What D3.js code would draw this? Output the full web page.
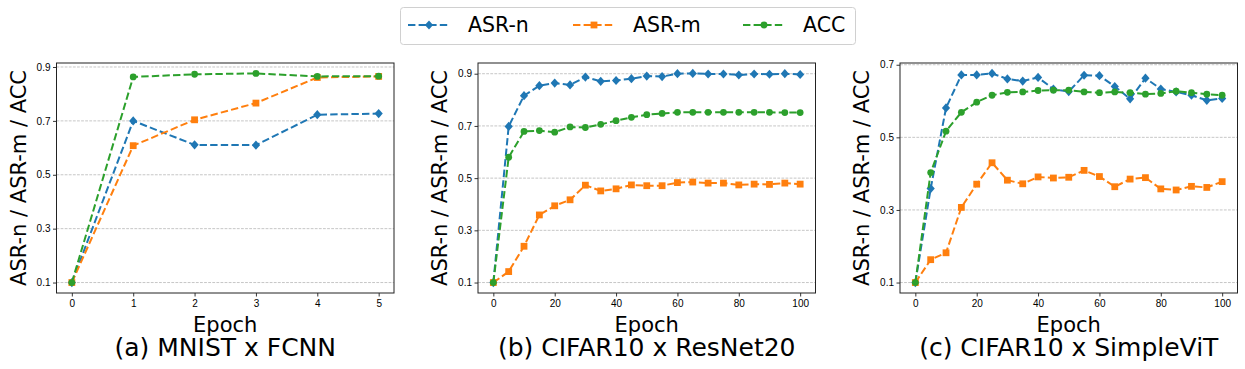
<!DOCTYPE html>
<html>
<head>
<meta charset="utf-8">
<script src="https://cdn.jsdelivr.net/npm/d3@7"></script>
<style>
  body { margin: 0; background: #fff; }
  svg { font-family: "DejaVu Sans", sans-serif; }
</style>
</head>
<body>
<svg width="1245" height="369"></svg>
<script>
// series names and colours
var seriesNames = ['ASR-n', 'ASR-m', 'ACC'];
var seriesColors = ['#1f77b4', '#ff7f0e', '#2ca02c'];
var seriesMarkers = ['diamond', 'square', 'circle'];

// (a) MNIST x FCNN
var epochsA = [0, 1, 2, 3, 4, 5];
var asrnA = [0.10, 0.700, 0.611, 0.610, 0.723, 0.727];
var asrmA = [0.10, 0.608, 0.704, 0.766, 0.861, 0.865];
var accA  = [0.10, 0.863, 0.873, 0.876, 0.865, 0.866];

// (b) CIFAR10 x ResNet20
var epochsB = [0, 5, 10, 15, 20, 25, 30, 35, 40, 45, 50, 55, 60, 65, 70, 75, 80, 85, 90, 95, 100];
var asrnB = [0.10, 0.698, 0.816, 0.854, 0.864, 0.857, 0.887, 0.871, 0.874, 0.881, 0.891, 0.889, 0.900, 0.901, 0.899, 0.899, 0.895, 0.899, 0.898, 0.900, 0.897];
var asrmB = [0.10, 0.142, 0.239, 0.359, 0.394, 0.417, 0.473, 0.451, 0.459, 0.474, 0.471, 0.471, 0.483, 0.485, 0.481, 0.481, 0.474, 0.477, 0.476, 0.481, 0.477];
var accB  = [0.10, 0.580, 0.679, 0.682, 0.676, 0.696, 0.694, 0.706, 0.720, 0.733, 0.743, 0.748, 0.752, 0.752, 0.752, 0.752, 0.752, 0.752, 0.752, 0.751, 0.751];

// (c) CIFAR10 x SimpleViT
var epochsC = [0, 5, 10, 15, 20, 25, 30, 35, 40, 45, 50, 55, 60, 65, 70, 75, 80, 85, 90, 95, 100];
var asrnC = [0.10, 0.359, 0.581, 0.672, 0.672, 0.676, 0.661, 0.655, 0.665, 0.633, 0.626, 0.671, 0.670, 0.640, 0.606, 0.663, 0.633, 0.625, 0.616, 0.602, 0.607];
var asrmC = [0.10, 0.163, 0.182, 0.307, 0.371, 0.430, 0.382, 0.372, 0.391, 0.388, 0.390, 0.409, 0.392, 0.364, 0.385, 0.389, 0.358, 0.355, 0.365, 0.362, 0.378];
var accC  = [0.10, 0.403, 0.517, 0.569, 0.597, 0.616, 0.624, 0.625, 0.629, 0.630, 0.630, 0.625, 0.623, 0.625, 0.623, 0.619, 0.621, 0.627, 0.623, 0.619, 0.616];

// tick labels
var xTicksA = [0, 1, 2, 3, 4, 5];
var xTicksBC = [0, 20, 40, 60, 80, 100];
var yTicksAB = [0.1, 0.3, 0.5, 0.7, 0.9];
var yTicksC = [0.1, 0.3, 0.5, 0.7];

var titles = ['(a) MNIST x FCNN', '(b) CIFAR10 x ResNet20', '(c) CIFAR10 x SimpleViT'];

var panels = [
  {left: 56.5, epochs: epochsA, series: [asrnA, asrmA, accA], xTicks: xTicksA, yTicks: yTicksAB, title: titles[0]},
  {left: 478, epochs: epochsB, series: [asrnB, asrmB, accB], xTicks: xTicksBC, yTicks: yTicksAB, title: titles[1]},
  {left: 900, epochs: epochsC, series: [asrnC, asrmC, accC], xTicks: xTicksBC, yTicks: yTicksC, title: titles[2]}
];

var svg = d3.select('svg');
var plotTop = 63, plotBottom = 293, pw = 337.5;

function pad(ext) { // matplotlib-style 5% margins
  var m = (ext[1] - ext[0]) * 0.05;
  return [ext[0] - m, ext[1] + m];
}

function drawMarker(sel, type, color) {
  if (type === 'diamond') {
    sel.append('path').attr('d', 'M0,-4.6L4.1,0L0,4.6L-4.1,0Z').attr('fill', color);
  } else if (type === 'square') {
    sel.append('rect').attr('x', -3.4).attr('y', -3.4).attr('width', 6.8).attr('height', 6.8).attr('fill', color);
  } else {
    sel.append('circle').attr('r', 3.4).attr('fill', color);
  }
}

panels.forEach(function(p) {
  var allVals = [].concat.apply([], p.series);
  var x = d3.scaleLinear().domain(pad(d3.extent(p.epochs))).range([p.left, p.left + pw]);
  var y = d3.scaleLinear().domain(pad(d3.extent(allVals))).range([plotBottom, plotTop]);

  var g = svg.append('g');

  // grid
  g.selectAll('.grid').data(p.yTicks).enter().append('line')
   .attr('x1', p.left).attr('x2', p.left + pw)
   .attr('y1', function(d) { return y(d); }).attr('y2', function(d) { return y(d); })
   .attr('stroke', '#b8b8b8').attr('stroke-width', 0.8).attr('stroke-dasharray', '2.8,1.3');

  // axes
  var xa = g.append('g').attr('transform', 'translate(0,' + plotBottom + ')')
    .call(d3.axisBottom(x).tickValues(p.xTicks).tickSize(3.5).tickPadding(3).tickFormat(d3.format('d')));
  var ya = g.append('g').attr('transform', 'translate(' + p.left + ',0)')
    .call(d3.axisLeft(y).tickValues(p.yTicks).tickSize(3.5).tickPadding(2.5).tickFormat(d3.format('.1f')));
  [xa, ya].forEach(function(a) {
    a.select('.domain').remove();
    a.selectAll('text').style('font-size', '10px').attr('fill', '#000');
    a.selectAll('line').attr('stroke', '#000').attr('stroke-width', 0.8);
  });

  // frame
  g.append('rect').attr('x', p.left).attr('y', plotTop).attr('width', pw).attr('height', plotBottom - plotTop)
   .attr('fill', 'none').attr('stroke', '#222').attr('stroke-width', 1);

  // lines + markers
  p.series.forEach(function(vals, si) {
    var pts = p.epochs.map(function(e, i) { return [e, vals[i]]; });
    var line = d3.line().x(function(d) { return x(d[0]); }).y(function(d) { return y(d[1]); });
    g.append('path').datum(pts).attr('d', line)
     .attr('fill', 'none').attr('stroke', seriesColors[si]).attr('stroke-width', 2)
     .attr('stroke-dasharray', '7.4,3.2');
    g.selectAll('.m' + si).data(pts).enter().append('g')
     .attr('transform', function(d) { return 'translate(' + x(d[0]) + ',' + y(d[1]) + ')'; })
     .each(function() { drawMarker(d3.select(this), seriesMarkers[si], seriesColors[si]); });
  });

  // labels
  var cx = p.left + pw / 2;
  g.append('text').attr('x', cx).attr('y', 332).attr('text-anchor', 'middle')
   .style('font-size', '21px').text('Epoch');
  g.append('text').attr('x', cx).attr('y', 356).attr('text-anchor', 'middle')
   .style('font-size', '25px').text(p.title);
  g.append('text').attr('transform', 'translate(' + (p.left - 31) + ',' + ((plotTop + plotBottom) / 2) + ') rotate(-90)')
   .attr('text-anchor', 'middle').style('font-size', '21px').text('ASR-n / ASR-m / ACC');
});

// legend
var lg = svg.append('g');
lg.append('rect').attr('x', 400.5).attr('y', 7.5).attr('width', 455).attr('height', 37).attr('rx', 3)
  .attr('fill', '#fff').attr('fill-opacity', 0.8).attr('stroke', '#d0d0d0').attr('stroke-width', 1);
var legX = [408, 573, 743];
seriesNames.forEach(function(name, i) {
  var e = lg.append('g').attr('transform', 'translate(' + legX[i] + ',25)');
  e.append('line').attr('x1', 0).attr('x2', 42).attr('stroke', seriesColors[i]).attr('stroke-width', 2)
   .attr('stroke-dasharray', '7.4,3.2');
  var m = e.append('g').attr('transform', 'translate(21,0)');
  drawMarker(m, seriesMarkers[i], seriesColors[i]);
  e.append('text').attr('x', 60).attr('y', 0).attr('dy', '0.36em').style('font-size', '20.5px').text(name);
});
</script>
</body>
</html>
